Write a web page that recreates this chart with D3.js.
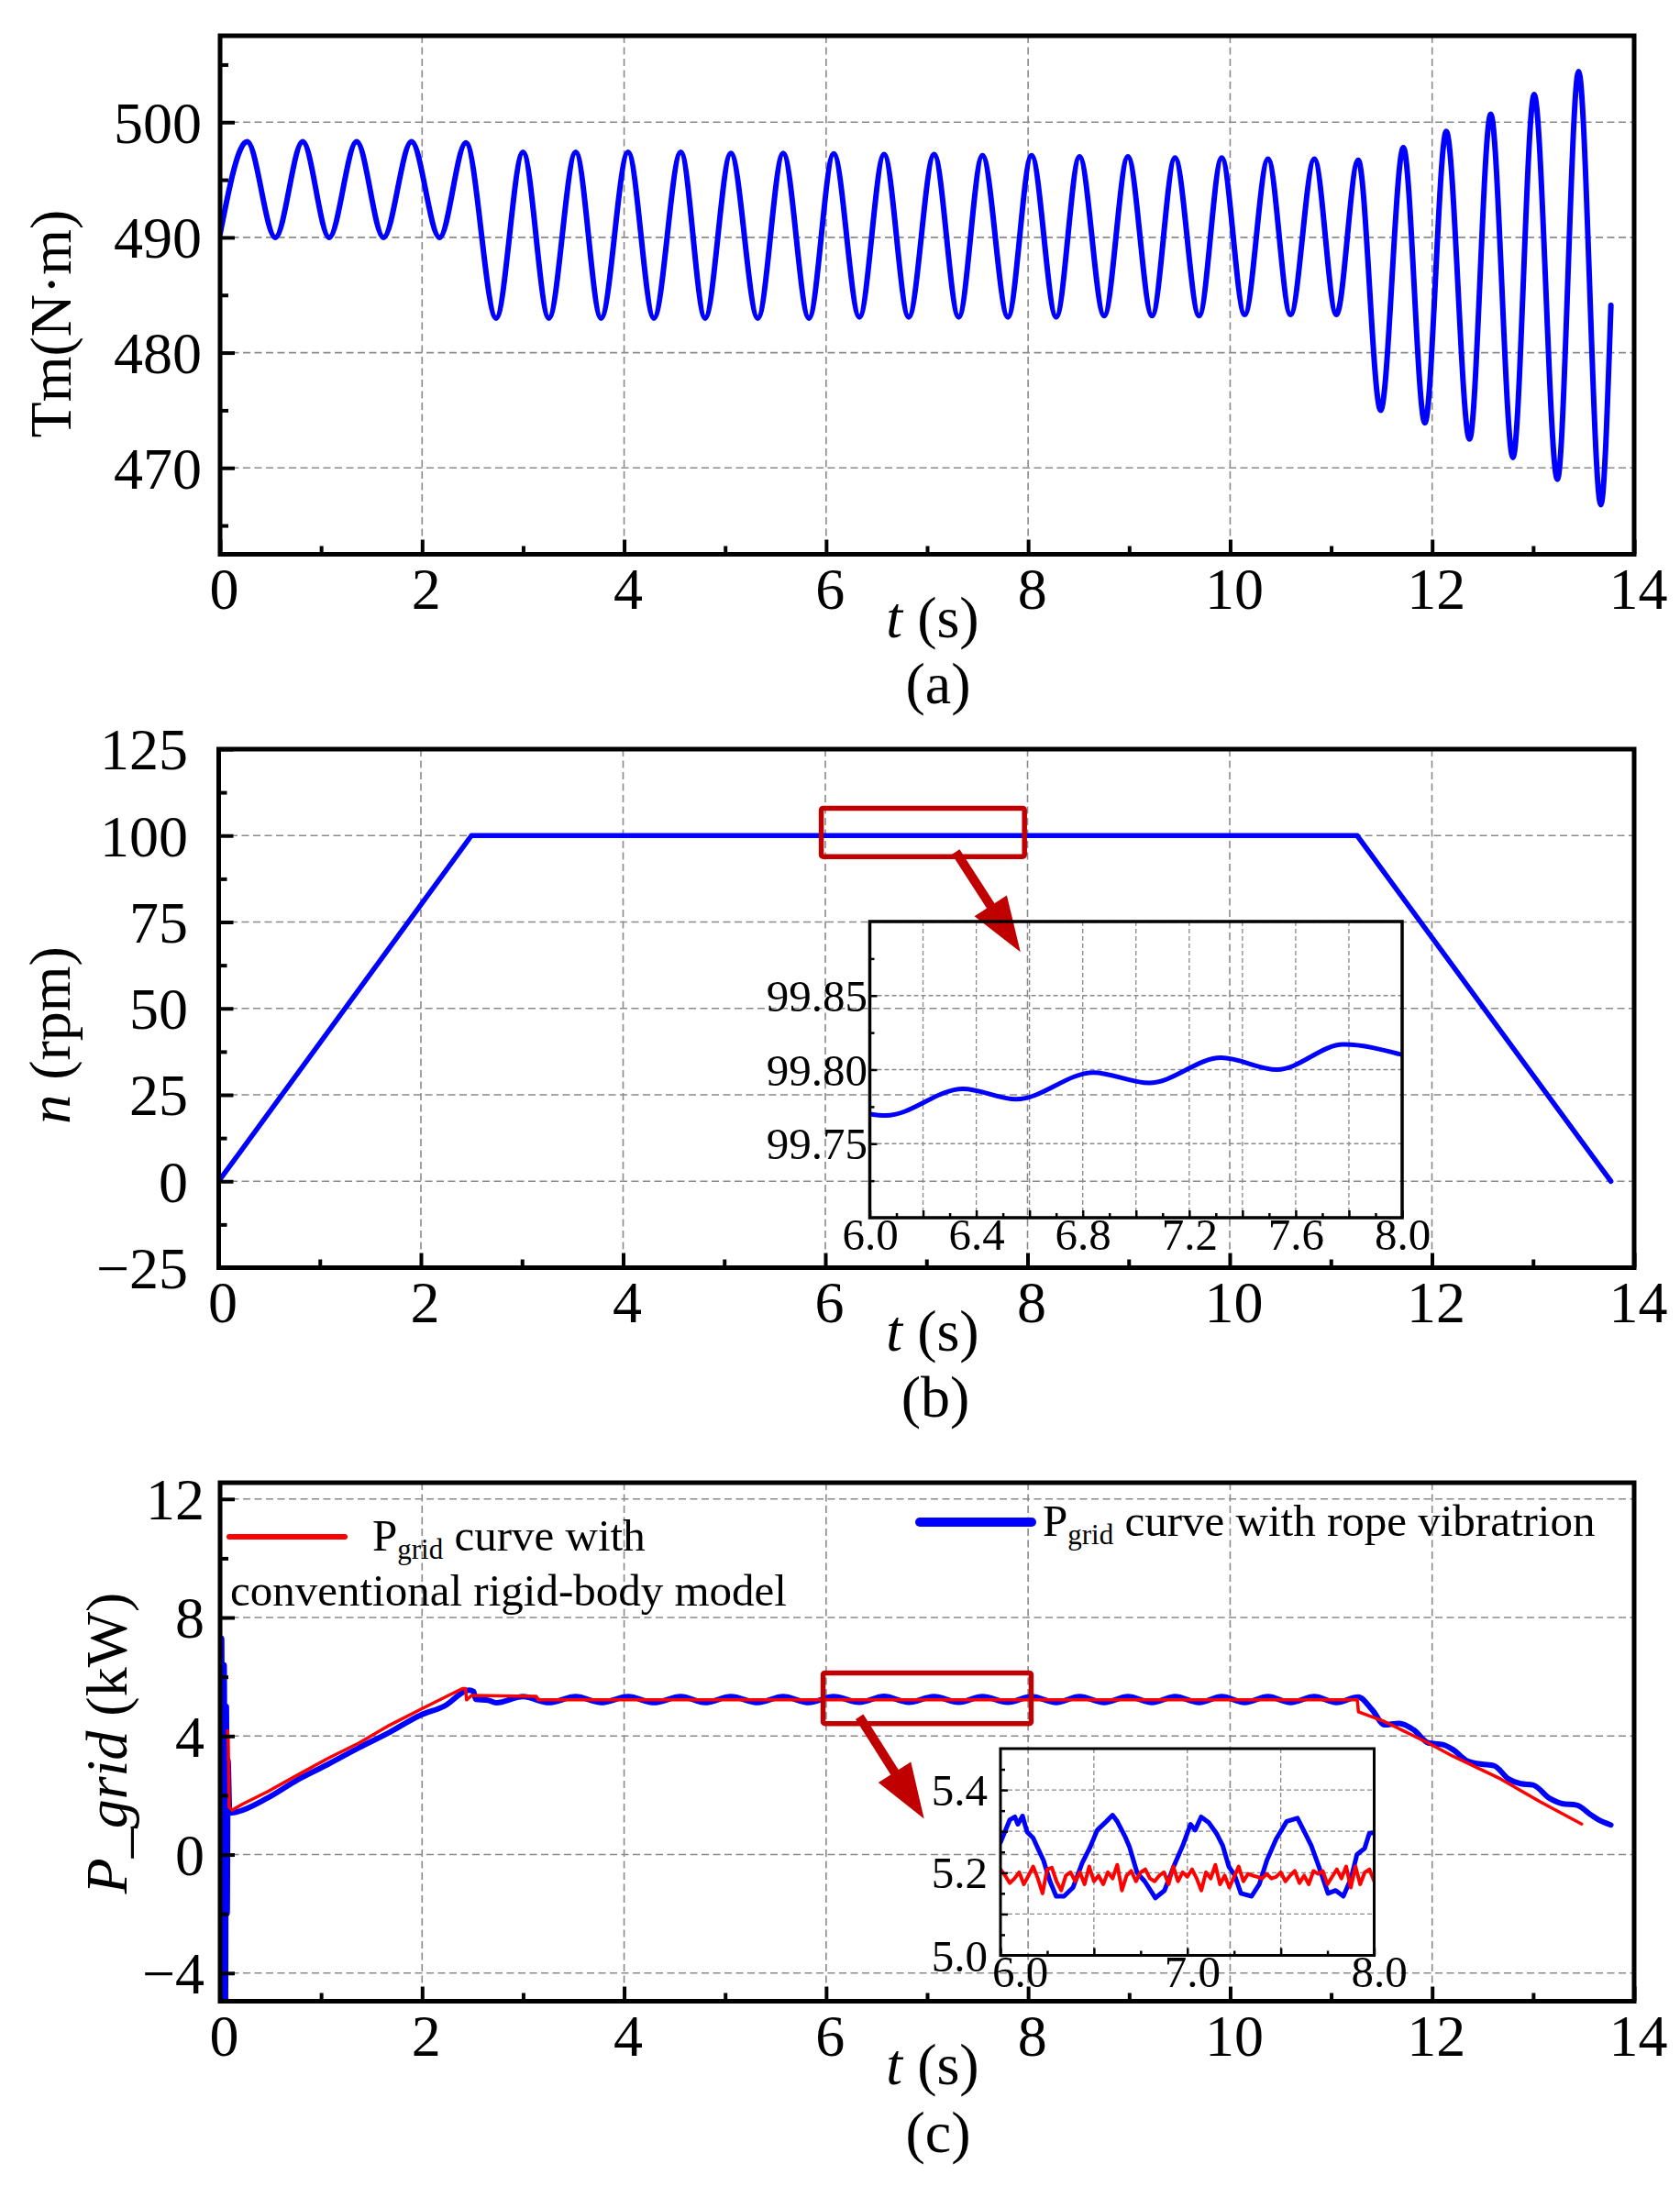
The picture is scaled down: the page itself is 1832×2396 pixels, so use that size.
<!DOCTYPE html>
<html>
<head>
<meta charset="utf-8">
<script src="https://cdn.jsdelivr.net/npm/d3@7"></script>
<style>
body { margin: 0; background: #fff; }
</style>
</head>
<body>
<svg id="fig" width="1832" height="2396"></svg>
<script>
// ---- data: (a) motor torque, extrema ----
var tmTime = [0, 0.268, 0.547, 0.818, 1.08, 1.352, 1.618, 1.895, 2.173, 2.434,
  2.733, 2.999, 3.255, 3.521, 3.772, 4.039, 4.295, 4.561, 4.802, 5.057,
  5.324, 5.575, 5.83, 6.075, 6.33, 6.574, 6.818, 7.069, 7.313, 7.548,
  7.80, 8.034, 8.278, 8.509, 8.753, 8.988, 9.227, 9.454, 9.693, 9.917,
  10.144, 10.375, 10.598, 10.834, 11.052, 11.268, 11.49, 11.715, 11.928, 12.14,
  12.37, 12.58, 12.80, 13.01, 13.24, 13.45, 13.67, 13.77];
var tmValue = [490.3, 498.3, 490.0, 498.3, 490.0, 498.3, 490.0, 498.3, 490.0, 498.2,
  483.0, 497.4, 483.0, 497.4, 483.0, 497.4, 483.0, 497.4, 483.0, 497.3,
  483.0, 497.3, 483.0, 497.25, 483.1, 497.2, 483.1, 497.2, 483.1, 497.1,
  483.1, 497.1, 483.1, 497.0, 483.2, 497.0, 483.2, 496.9, 483.2, 496.9,
  483.3, 496.8, 483.3, 496.8, 483.3, 496.7, 475.0, 497.8, 473.9, 499.2,
  472.5, 500.7, 470.9, 502.4, 469.0, 504.4, 466.8, 484.1];

// ---- data: (b) speed ----
var nTime = [0, 2.5, 11.26, 13.77];
var nValue = [0, 100, 100, 0];
var nZoomTime = [6.0, 6.06, 6.35, 6.55, 6.84, 7.05, 7.32, 7.53, 7.78, 8.0];
var nZoomValue = [99.770, 99.769, 99.787, 99.780, 99.798, 99.791, 99.808, 99.800, 99.817, 99.810];

// ---- data: (c) grid power ----
var pBlueTime = [0.000, 0.015, 0.028, 0.040, 0.052, 0.062, 0.070, 0.078, 0.095, 0.166,
  0.469, 0.770, 1.070, 1.377, 1.680, 1.980, 2.220, 2.466, 2.510, 2.530, 2.650,
  2.733, 2.999, 3.255, 3.521, 3.772, 4.039, 4.295, 4.561, 4.802, 5.057,
  5.324, 5.575, 5.830, 6.075, 6.330, 6.574, 6.818, 7.069, 7.313, 7.548,
  7.800, 8.034, 8.278, 8.509, 8.753, 8.988, 9.227, 9.454, 9.693, 9.917,
  10.144, 10.375, 10.598, 10.834, 11.052, 11.268,
  11.408, 11.528, 11.673, 11.817, 11.962, 12.106, 12.203, 12.348, 12.492, 12.612,
  12.757, 12.877, 12.998, 13.166, 13.287, 13.431, 13.576, 13.648, 13.769];
var pBlueValue = [-6, 7.3, -6, 6.4, -6, 5.0, -2.0, 3.2, 1.40, 1.44,
  1.91, 2.53, 3.05, 3.61, 4.13, 4.70, 5.01, 5.55, 5.50, 5.24, 5.21,
  5.12, 5.33, 5.13, 5.33, 5.13, 5.33, 5.13, 5.33, 5.13, 5.33,
  5.13, 5.33, 5.13, 5.33, 5.14, 5.34, 5.14, 5.33, 5.14, 5.33,
  5.14, 5.33, 5.13, 5.33, 5.13, 5.33, 5.13, 5.33, 5.13, 5.33,
  5.13, 5.33, 5.13, 5.33, 5.13, 5.32,
  4.88, 4.38, 4.43, 4.21, 3.77, 3.71, 3.55, 3.16, 3.05, 3.00,
  2.55, 2.39, 2.35, 1.89, 1.72, 1.67, 1.33, 1.17, 1.00];
var pRedTime = [0.075, 0.080, 0.090, 0.120, 0.227, 0.469, 0.770, 1.070, 1.377, 1.680,
  1.980, 2.280, 2.400, 2.430, 2.440, 2.490, 3.130, 3.150, 11.260, 11.270,
  11.528, 11.960, 12.200, 12.680, 13.070, 13.480];
var pRedValue = [4.18, 3.90, 1.60, 1.50, 1.71, 2.12, 2.69, 3.25, 3.77, 4.37,
  4.89, 5.40, 5.60, 5.60, 5.22, 5.37, 5.34, 5.22, 5.22, 4.82,
  4.49, 3.77, 3.33, 2.55, 1.78, 1.03];

var pZoomBlueTime = [6.000, 6.050, 6.077, 6.093, 6.118, 6.142, 6.175, 6.200, 6.230, 6.265,
  6.298, 6.340, 6.388, 6.437, 6.477, 6.518, 6.567, 6.600, 6.625, 6.666,
  6.690, 6.731, 6.772, 6.829, 6.878, 6.927, 6.976, 7.017, 7.042, 7.074,
  7.115, 7.156, 7.189, 7.222, 7.254, 7.287, 7.344, 7.385, 7.426, 7.475,
  7.532, 7.589, 7.622, 7.663, 7.704, 7.753, 7.794, 7.835, 7.876, 7.908,
  7.949, 7.974, 8.000];
var pZoomBlueValue = [5.273, 5.328, 5.335, 5.317, 5.337, 5.299, 5.284, 5.259, 5.230, 5.179,
  5.143, 5.143, 5.164, 5.223, 5.259, 5.303, 5.324, 5.339, 5.324, 5.288,
  5.263, 5.200, 5.179, 5.139, 5.157, 5.215, 5.266, 5.317, 5.303, 5.335,
  5.321, 5.295, 5.266, 5.215, 5.193, 5.150, 5.143, 5.172, 5.230, 5.281,
  5.324, 5.332, 5.303, 5.266, 5.215, 5.150, 5.157, 5.143, 5.186, 5.244,
  5.259, 5.295, 5.297];
var pZoomRedTime = [6.000, 6.025, 6.050, 6.075, 6.100, 6.125, 6.150, 6.175, 6.200, 6.225,
  6.250, 6.275, 6.300, 6.325, 6.350, 6.375, 6.400, 6.425, 6.450, 6.475,
  6.500, 6.525, 6.550, 6.575, 6.600, 6.625, 6.650, 6.675, 6.700, 6.725,
  6.750, 6.775, 6.800, 6.825, 6.850, 6.875, 6.900, 6.925, 6.950, 6.975,
  7.000, 7.025, 7.050, 7.075, 7.100, 7.125, 7.150, 7.175, 7.200, 7.225,
  7.250, 7.275, 7.300, 7.325, 7.350, 7.375, 7.400, 7.425, 7.450, 7.475,
  7.500, 7.525, 7.550, 7.575, 7.600, 7.625, 7.650, 7.675, 7.700, 7.725,
  7.750, 7.775, 7.800, 7.825, 7.850, 7.875, 7.900, 7.925, 7.950, 7.975,
  8.000];
var pZoomRedValue = [5.208, 5.193, 5.175, 5.186, 5.201, 5.172, 5.193, 5.215, 5.186, 5.150,
  5.208, 5.212, 5.179, 5.157, 5.193, 5.201, 5.179, 5.201, 5.172, 5.215,
  5.179, 5.193, 5.172, 5.201, 5.186, 5.219, 5.157, 5.193, 5.204, 5.179,
  5.201, 5.208, 5.186, 5.179, 5.193, 5.201, 5.172, 5.215, 5.179, 5.201,
  5.190, 5.208, 5.186, 5.157, 5.201, 5.186, 5.219, 5.172, 5.193, 5.164,
  5.190, 5.215, 5.179, 5.197, 5.193, 5.190, 5.186, 5.197, 5.186, 5.190,
  5.201, 5.179, 5.193, 5.204, 5.175, 5.193, 5.172, 5.204, 5.197, 5.204,
  5.172, 5.190, 5.208, 5.186, 5.215, 5.164, 5.215, 5.172, 5.201, 5.208,
  5.179];

// zoom boxes and arrows (data units)
var boxBTime = [5.96, 7.97], boxBValue = [93.9, 107.9];
var arrowBTime = [7.29, 7.93], arrowBValue = [95.3, 66.3];
var boxCTime = [5.97, 8.03], boxCValue = [4.42, 6.13];
var arrowCTime = [6.33, 6.97], arrowCValue = [4.65, 1.21];

// ticks
var tTicks = [0, 2, 4, 6, 8, 10, 12, 14];
var tMinor = [1, 3, 5, 7, 9, 11, 13];

var FONT = '"Liberation Serif","Times New Roman",Times,serif';
var BLUE = "#0000ff", RED = "#ff0000", DARKRED = "#c00000";
var svg = d3.select("#fig");
svg.append("rect").attr("width", 1832).attr("height", 2396).attr("fill", "#fff");
var clipN = 0;

function drawPanel(p) {
  var x = d3.scaleLinear().domain(p.xDomain).range([p.left, p.right]);
  var y = d3.scaleLinear().domain(p.yDomain).range([p.bottom, p.top]);
  var g = svg.append("g");

  // grid
  var grid = g.append("g").attr("stroke", "#8a8a8a").attr("stroke-width", p.gridW)
    .attr("stroke-dasharray", p.dash).attr("fill", "none");
  grid.selectAll("line.v").data(p.xGrid).enter().append("line").attr("class", "v")
    .attr("x1", function(d) { return x(d); }).attr("x2", function(d) { return x(d); })
    .attr("y1", p.top).attr("y2", p.bottom);
  grid.selectAll("line.h").data(p.yGrid).enter().append("line").attr("class", "h")
    .attr("y1", function(d) { return y(d); }).attr("y2", function(d) { return y(d); })
    .attr("x1", p.left).attr("x2", p.right);

  // plot area (clipped)
  var id = "clip" + (clipN++);
  svg.append("clipPath").attr("id", id).append("rect")
    .attr("x", p.left).attr("y", p.top)
    .attr("width", p.right - p.left).attr("height", p.bottom - p.top);
  var plot = g.append("g").attr("clip-path", "url(#" + id + ")");

  function style(sel) {
    sel.select(".domain").remove();
    sel.selectAll(".tick line").attr("stroke", "#000").attr("stroke-width", p.tickW);
    sel.selectAll(".tick text").attr("font-family", FONT).attr("font-size", p.fontSize).attr("fill", "#000");
  }

  // bottom ticks (inward)
  var bx = g.append("g").attr("transform", "translate(0," + p.bottom + ")")
    .call(d3.axisBottom(x).tickValues(p.xMajor).tickSize(-p.majorLen).tickFormat(p.xFormat));
  style(bx);
  bx.selectAll(".tick text").attr("y", p.xLabelY).attr("dy", null).attr("dx", p.xLabelDx);
  var bxm = g.append("g").attr("transform", "translate(0," + p.bottom + ")")
    .call(d3.axisBottom(x).tickValues(p.xMinor).tickSize(-p.minorLen).tickFormat(""));
  style(bxm);

  // left ticks (inward)
  var ly = g.append("g").attr("transform", "translate(" + p.left + ",0)")
    .call(d3.axisLeft(y).tickValues(p.yMajor).tickSize(-p.majorLen).tickFormat(p.yFormat));
  style(ly);
  ly.selectAll(".tick text").attr("x", p.yLabelX - p.left).attr("dy", "0.34em");
  var lym = g.append("g").attr("transform", "translate(" + p.left + ",0)")
    .call(d3.axisLeft(y).tickValues(p.yMinor).tickSize(-p.minorLen).tickFormat(""));
  style(lym);

  // frame
  g.append("rect").attr("x", p.left).attr("y", p.top)
    .attr("width", p.right - p.left).attr("height", p.bottom - p.top)
    .attr("fill", "none").attr("stroke", "#000").attr("stroke-width", p.frameW);

  return { x: x, y: y, g: g, plot: plot };
}

function drawLine(panel, times, values, color, width, curve) {
  var line = d3.line()
    .x(function(d) { return panel.x(d[0]); })
    .y(function(d) { return panel.y(d[1]); })
    .curve(curve || d3.curveLinear);
  panel.plot.append("path").datum(d3.zip(times, values))
    .attr("d", line).attr("fill", "none").attr("stroke", color)
    .attr("stroke-width", width).attr("stroke-linejoin", "round").attr("stroke-linecap", "round");
}

function xTitle(cx, by) {
  var t = svg.append("text").attr("x", cx).attr("y", by).attr("text-anchor", "middle")
    .attr("font-family", FONT).attr("font-size", 64);
  t.append("tspan").attr("font-style", "italic").text("t");
  t.append("tspan").text(" (s)");
}
function panelTag(cx, by, s) {
  svg.append("text").attr("x", cx).attr("y", by).attr("text-anchor", "middle")
    .attr("font-family", FONT).attr("font-size", 64).text(s);
}
function yTitle(bx, cy, parts) {
  var t = svg.append("text").attr("transform", "translate(" + bx + "," + cy + ") rotate(-90)")
    .attr("text-anchor", "middle").attr("font-family", FONT).attr("font-size", 64);
  parts.forEach(function(pt) {
    t.append("tspan").attr("font-style", pt[1] ? "italic" : "normal").text(pt[0]);
  });
}
function zoomMark(panel, bt, bv, at, av) {
  var x0 = panel.x(bt[0]), x1 = panel.x(bt[1]), y0 = panel.y(bv[1]), y1 = panel.y(bv[0]);
  svg.append("rect").attr("x", x0).attr("y", y0).attr("width", x1 - x0).attr("height", y1 - y0)
    .attr("rx", 2).attr("fill", "none").attr("stroke", DARKRED).attr("stroke-width", 5.5);
  var sx = panel.x(at[0]), sy = panel.y(av[0]), tx = panel.x(at[1]), ty = panel.y(av[1]);
  var len = Math.hypot(tx - sx, ty - sy), ux = (tx - sx) / len, uy = (ty - sy) / len;
  var headLen = 60, halfW = 21;
  var bxp = tx - ux * headLen, byp = ty - uy * headLen;
  svg.append("line").attr("x1", sx).attr("y1", sy).attr("x2", bxp + ux * 2).attr("y2", byp + uy * 2)
    .attr("stroke", DARKRED).attr("stroke-width", 10);
  svg.append("polygon").attr("fill", DARKRED)
    .attr("points", [[tx, ty], [bxp - uy * halfW, byp + ux * halfW], [bxp + uy * halfW, byp - ux * halfW]]
      .map(function(q) { return q.join(","); }).join(" "));
}

var mainCommon = {
  xDomain: [0, 14], xMajor: tTicks, xMinor: tMinor, xGrid: tTicks.slice(1, 7),
  xFormat: d3.format("d"), majorLen: 16, minorLen: 9, tickW: 4, frameW: 5,
  gridW: 1.6, dash: "8,4.5", fontSize: 64, xLabelY: 59, xLabelDx: 4
};

// ---------- (a) ----------
var pa = drawPanel(Object.assign({}, mainCommon, {
  left: 240, right: 1782, top: 39, bottom: 604.5,
  yDomain: [462.5, 507.5], yMajor: [470, 480, 490, 500], yMinor: [465, 475, 485, 495, 505],
  yGrid: [470, 480, 490, 500], yFormat: d3.format("d"), yLabelX: 220
}));
drawLine(pa, tmTime, tmValue, BLUE, 6, d3.curveMonotoneX);
xTitle(1017, 695);
panelTag(1023, 767, "(a)");
yTitle(77, 353, [["Tm(N\u00b7m)", false]]);

// ---------- (b) ----------
var pb = drawPanel(Object.assign({}, mainCommon, {
  left: 238.5, right: 1782, top: 817, bottom: 1382.5,
  yDomain: [-25, 125], yMajor: [-25, 0, 25, 50, 75, 100, 125],
  yMinor: [-12.5, 12.5, 37.5, 62.5, 87.5, 112.5],
  yGrid: [0, 25, 50, 75, 100], yFormat: d3.format("d"), yLabelX: 205
}));
drawLine(pb, nTime, nValue, BLUE, 5.5);
zoomMark(pb, boxBTime, boxBValue, arrowBTime, arrowBValue);
var pbz = drawPanel({
  left: 948.5, right: 1529, top: 1005, bottom: 1328,
  xDomain: [6, 8], xMajor: [6.0, 6.2, 6.4, 6.6, 6.8, 7.0, 7.2, 7.4, 7.6, 7.8, 8.0],
  xMinor: [6.1, 6.3, 6.5, 6.7, 6.9, 7.1, 7.3, 7.5, 7.7, 7.9],
  xGrid: [6.2, 6.4, 6.6, 6.8, 7.0, 7.2, 7.4, 7.6, 7.8],
  xFormat: function(d) { return Math.round(d * 10) % 4 === 0 ? d.toFixed(1) : ""; },
  yDomain: [99.70, 99.90], yMajor: [99.75, 99.80, 99.85], yMinor: [99.725, 99.775, 99.825, 99.875],
  yGrid: [99.75, 99.80, 99.85], yFormat: d3.format(".2f"), yLabelX: 946,
  majorLen: 8, minorLen: 5, tickW: 2.5, frameW: 3.5, gridW: 1.3, dash: "5,3",
  fontSize: 49, xLabelY: 35, xLabelDx: 0
});
drawLine(pbz, nZoomTime, nZoomValue, BLUE, 5, d3.curveMonotoneX);
xTitle(1017, 1473);
panelTag(1020, 1545, "(b)");
yTitle(76, 1129, [["n", true], [" (rpm)", false]]);

// ---------- (c) ----------
var pc = drawPanel(Object.assign({}, mainCommon, {
  left: 240, right: 1782, top: 1617, bottom: 2182.5,
  yDomain: [-4.95, 12.55], yMajor: [-4, 0, 4, 8, 12], yMinor: [-2, 2, 6, 10],
  yGrid: [-4, 0, 4, 8, 12], yFormat: d3.format("d"), yLabelX: 223
}));
drawLine(pc, pBlueTime, pBlueValue, BLUE, 6, d3.curveMonotoneX);
drawLine(pc, pRedTime, pRedValue, RED, 3.5);
zoomMark(pc, boxCTime, boxCValue, arrowCTime, arrowCValue);
var pcz = drawPanel({
  left: 1091, right: 1498.5, top: 1907, bottom: 2132.5,
  xDomain: [6, 8], xMajor: [6.0, 6.5, 7.0, 7.5, 8.0], xMinor: [6.25, 6.75, 7.25, 7.75],
  xGrid: [6.5, 7.0, 7.5],
  xFormat: function(d) { return Math.round(d * 10) % 10 === 0 ? d.toFixed(1) : ""; },
  yDomain: [5.0, 5.5], yMajor: [5.0, 5.1, 5.2, 5.3, 5.4], yMinor: [5.05, 5.15, 5.25, 5.35, 5.45],
  yGrid: [5.1, 5.2, 5.3, 5.4],
  yFormat: function(d) { return Math.round(d * 10) % 2 === 0 ? d.toFixed(1) : ""; },
  yLabelX: 1077, majorLen: 8, minorLen: 5, tickW: 2.5, frameW: 3, gridW: 1.3, dash: "5,3",
  fontSize: 49, xLabelY: 34,
  // first label sits clear of the "5.0" label, as in the original
  xLabelDx: function(d) { return d === 6 ? 21 : 5; }
});
drawLine(pcz, pZoomBlueTime, pZoomBlueValue, BLUE, 5);
drawLine(pcz, pZoomRedTime, pZoomRedValue, RED, 4);
xTitle(1017, 2273);
panelTag(1023, 2347, "(c)");
yTitle(138, 1901, [["P_grid", true], [" (kW)", false]]);

// legend (c)
function legendLabel(x, y, rest) {
  var t = svg.append("text").attr("x", x).attr("y", y).attr("font-family", FONT).attr("font-size", 49);
  t.append("tspan").text("P");
  t.append("tspan").attr("font-size", 31).attr("dy", 9).text("grid");
  t.append("tspan").attr("dy", -9).text(rest);
}
svg.append("line").attr("x1", 250).attr("x2", 376).attr("y1", 1676).attr("y2", 1676)
  .attr("stroke", RED).attr("stroke-width", 6).attr("stroke-linecap", "round");
legendLabel(406, 1690.5, " curve with");
svg.append("text").attr("x", 251).attr("y", 1751).attr("font-family", FONT).attr("font-size", 49)
  .text("conventional rigid-body model");
svg.append("line").attr("x1", 1003).attr("x2", 1125).attr("y1", 1660).attr("y2", 1660)
  .attr("stroke", BLUE).attr("stroke-width", 10).attr("stroke-linecap", "round");
legendLabel(1137, 1675, " curve with rope vibratrion");
</script>
</body>
</html>
